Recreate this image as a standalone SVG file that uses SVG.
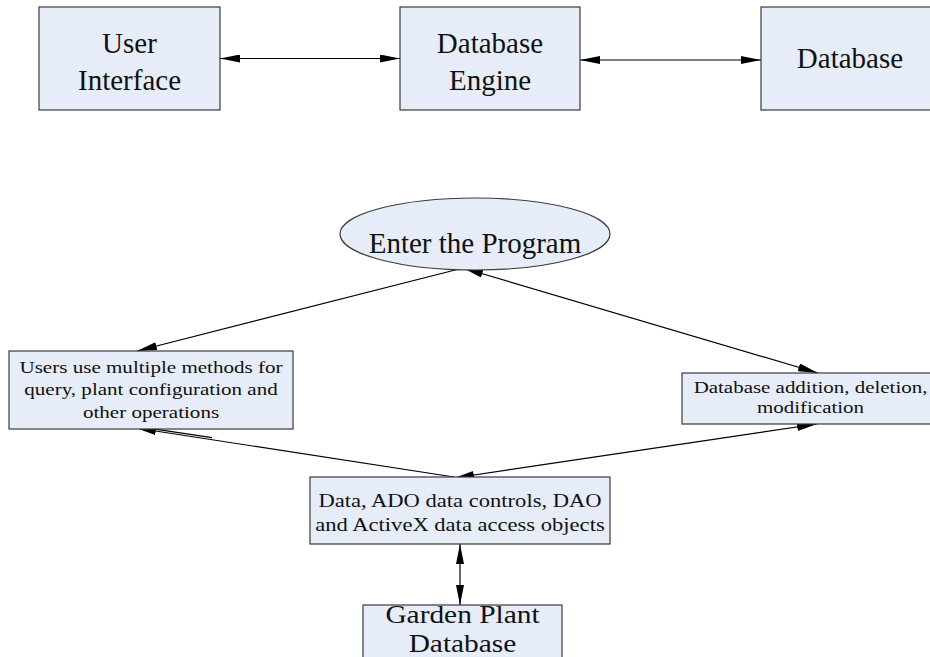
<svg xmlns="http://www.w3.org/2000/svg" width="930" height="657" viewBox="0 0 930 657">
  <style>
    .box { fill: #e7edf8; stroke: #3a3a3a; stroke-width: 1.2; }
    .lbl { font-family: "Liberation Serif", "Times New Roman", serif; fill: #111; text-anchor: middle; }
    .big { font-size: 29px; }
    .link { stroke: #000; stroke-width: 1.2; fill: none; }
    .two { marker-start: url(#head); marker-end: url(#head); }
    .one { marker-end: url(#head); }
  </style>
  <defs>
    <marker id="head" markerUnits="userSpaceOnUse" viewBox="0 0 20 8" refX="20" refY="4" markerWidth="20" markerHeight="8" orient="auto-start-reverse">
      <path d="M0,0 L20,4 L0,8 Z" fill="#000"/>
    </marker>
  </defs>
  <rect width="930" height="657" fill="#fff"/>

  <!-- connectors -->
  <g id="connectors">
    <line class="link two" x1="220" y1="58.5" x2="400" y2="58.5"/>
    <line class="link two" x1="580" y1="60" x2="761" y2="60"/>
    <line class="link one" x1="463" y1="268" x2="137" y2="351"/>
    <line class="link two" x1="463" y1="268" x2="818" y2="373"/>
    <line class="link one" x1="454" y1="477" x2="136" y2="428"/>
    <line class="link" x1="150" y1="428.4" x2="212" y2="437.6" stroke-width="1"/>
    <line class="link two" x1="454" y1="478" x2="817" y2="424"/>
    <line class="link two" x1="460" y1="544" x2="460" y2="605"/>
  </g>

  <!-- top row -->
  <g id="user-interface">
    <rect class="box" x="39" y="7" width="181" height="103"/>
    <text class="lbl big" x="129.5" y="53">User</text>
    <text class="lbl big" x="129.5" y="90">Interface</text>
  </g>
  <g id="database-engine">
    <rect class="box" x="400" y="7" width="180" height="103"/>
    <text class="lbl big" x="490" y="53">Database</text>
    <text class="lbl big" x="490" y="90">Engine</text>
  </g>
  <g id="database">
    <rect class="box" x="761" y="7" width="180" height="103"/>
    <text class="lbl big" x="850" y="68">Database</text>
  </g>

  <!-- program flow -->
  <g id="enter-program">
    <ellipse class="box" cx="475" cy="234" rx="135" ry="36"/>
    <text class="lbl big" x="475" y="253">Enter the Program</text>
  </g>
  <g id="user-operations">
    <rect class="box" x="9" y="351" width="284" height="78"/>
    <g transform="translate(151 0) scale(1.19 1)">
      <text class="lbl" font-size="17.7" x="0" y="373">Users use multiple methods for</text>
      <text class="lbl" font-size="17.7" x="0" y="395.5">query, plant configuration and</text>
      <text class="lbl" font-size="17.7" x="0" y="418">other operations</text>
    </g>
  </g>
  <g id="db-maintenance">
    <rect class="box" x="682" y="373" width="257" height="51"/>
    <g transform="translate(810.5 0) scale(1.27 1)">
      <text class="lbl" font-size="16.5" x="0" y="393">Database addition, deletion,</text>
      <text class="lbl" font-size="16.5" x="0" y="413">modification</text>
    </g>
  </g>
  <g id="data-access">
    <rect class="box" x="310" y="477" width="300" height="67"/>
    <g transform="translate(460 0) scale(1.22 1)">
      <text class="lbl" font-size="18.5" x="0" y="507">Data, ADO data controls, DAO</text>
      <text class="lbl" font-size="18.5" x="0" y="531">and ActiveX data access objects</text>
    </g>
  </g>
  <g id="garden-plant-db">
    <rect class="box" x="363" y="605" width="199" height="60"/>
    <g transform="translate(462.5 0) scale(1.2 1)">
      <text class="lbl" font-size="24.5" x="0" y="623">Garden Plant</text>
      <text class="lbl" font-size="24.5" x="0" y="652">Database</text>
    </g>
  </g>
</svg>
